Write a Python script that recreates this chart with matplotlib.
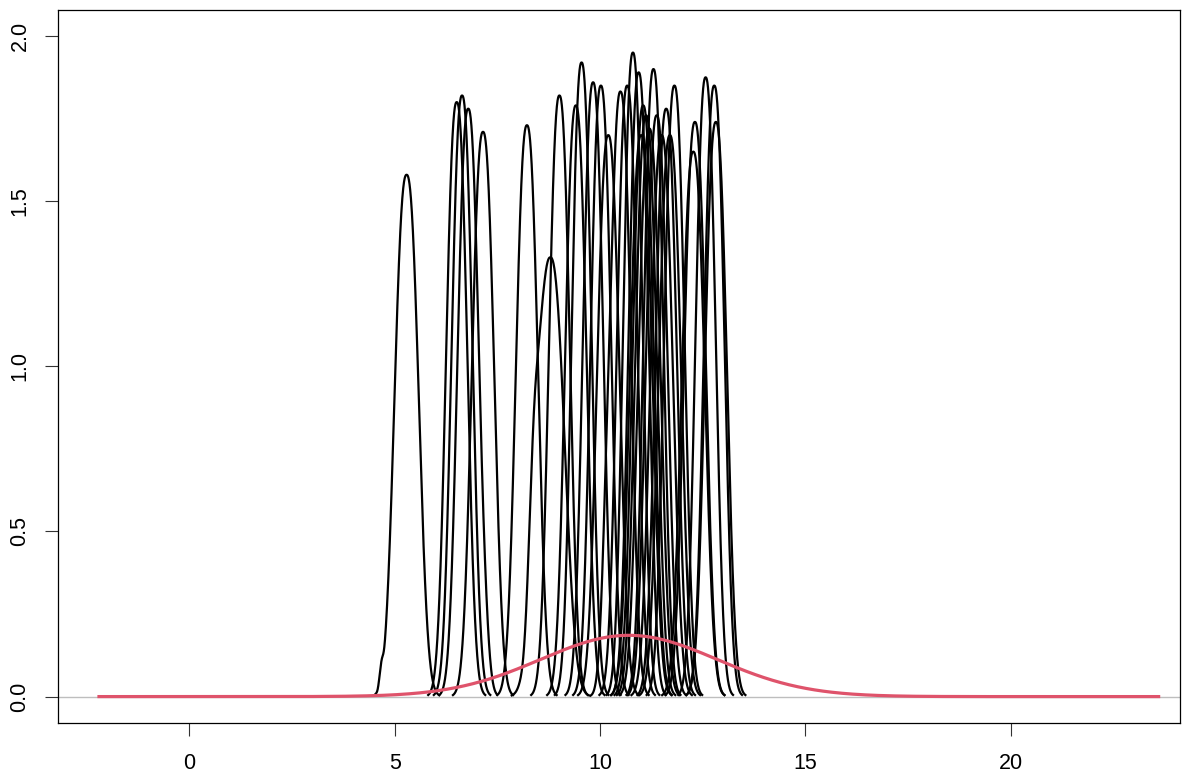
import numpy as np
import matplotlib
matplotlib.use("Agg")
import matplotlib.pyplot as plt

plt.rcParams['font.family'] = ['Liberation Sans', 'DejaVu Sans']

# peaks of the black density curves (location, height)
peak_x = [5.29, 6.51, 6.64, 6.79, 7.15, 8.22, 8.79, 9.01, 9.41, 9.55,
          9.83, 10.02, 10.20, 10.50, 10.66, 10.80, 10.94, 11.00, 11.05, 11.12,
          11.20, 11.30, 11.38, 11.50, 11.61, 11.70, 11.81, 12.27, 12.31, 12.57,
          12.78, 12.82]
peak_y = [1.58, 1.80, 1.82, 1.78, 1.71, 1.73, 1.33, 1.82, 1.79, 1.92,
          1.86, 1.85, 1.70, 1.83, 1.85, 1.95, 1.89, 1.70, 1.79, 1.76,
          1.72, 1.90, 1.76, 1.70, 1.78, 1.70, 1.85, 1.65, 1.74, 1.875,
          1.85, 1.74]

# small shoulders on some curves (curve index, location, height)
shoulder_idx = [0, 6, 13, 3]
shoulder_x = [4.72, 8.50, 10.33, 6.98]
shoulder_y = [0.12, 0.95, 1.10, 0.70]

# red normal density
norm_mean = 10.7
norm_sd = 2.15

fig = plt.figure(figsize=(11.93, 7.73), dpi=100)
ax = fig.add_axes([0.0482, 0.0651, 0.9891 - 0.0482, 0.9871 - 0.0651])

ax.axhline(0, color='#BEBEBE', lw=1.0, zorder=1)


def bump(x, c, h, s):
    return h * np.exp(-0.5 * np.abs((x - c) / s) ** 2.4)


for i, (c, h) in enumerate(zip(peak_x, peak_y)):
    s = 1.12 / (h * np.sqrt(2 * np.pi))
    lo, hi = c - 2.8 * s, c + 2.8 * s
    extra = []
    for j, k in enumerate(shoulder_idx):
        if k == i:
            ss = 0.2 if shoulder_y[j] > 0.3 else 0.08
            extra.append((shoulder_x[j], shoulder_y[j], ss))
            lo = min(lo, shoulder_x[j] - 2.8 * ss)
    x = np.linspace(lo, hi, 500)
    # smooth maximum of the main bump and its shoulders
    y = bump(x, c, h, s) ** 6
    for sx, sy, ss in extra:
        y = y + bump(x, sx, sy, ss) ** 6
    y = y ** (1 / 6)
    ax.plot(x, y, color='black', lw=1.6, zorder=2)

xr = np.linspace(norm_mean - 6 * norm_sd, norm_mean + 6 * norm_sd, 500)
yr = np.exp(-0.5 * ((xr - norm_mean) / norm_sd) ** 2) / (norm_sd * np.sqrt(2 * np.pi))
ax.plot(xr, yr, color='#DF536B', lw=2.3, zorder=3)

ax.set_xlim(-3.21, 24.12)
ax.set_ylim(-0.079, 2.079)
ax.set_xticks([0, 5, 10, 15, 20])
ax.set_yticks([0.0, 0.5, 1.0, 1.5, 2.0])
ax.set_yticklabels(['0.0', '0.5', '1.0', '1.5', '2.0'], rotation=90, va='center')
ax.tick_params(axis='both', direction='out', length=9.5, width=0.8,
               labelsize=15.5, color='#333333')
ax.tick_params(axis='x', pad=12)
ax.tick_params(axis='y', pad=10)
for sp in ax.spines.values():
    sp.set_linewidth(0.9)
    sp.set_color('black')

fig.savefig('out.png', dpi=100)
